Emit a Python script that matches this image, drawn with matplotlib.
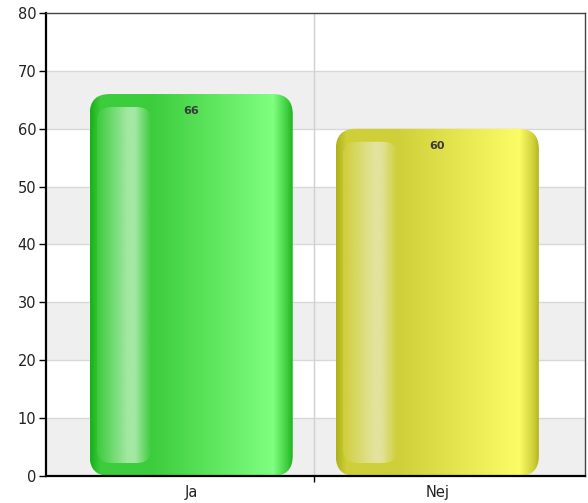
import matplotlib
matplotlib.use('Agg')
import matplotlib.pyplot as plt
import numpy as np
from matplotlib.patches import FancyBboxPatch
from matplotlib.colors import to_rgb

# Data
categories = ['Ja', 'Nej']
values = [66, 60]
# gradient stops per bar: edge dark, base, light, highlight
bar_dark = ['#19b019', '#b0b018']
bar_base = ['#3ccc3c', '#cfcf3a']
bar_light = ['#80ff80', '#fcfc66']
hl_color = ['#b0ecb0', '#e6e6a8']

y_ticks = [0, 10, 20, 30, 40, 50, 60, 70, 80]

W, H = 588, 503
fig = plt.figure(figsize=(W / 100, H / 100), dpi=100)
ax = fig.add_axes([46 / W, 27 / H, 539 / W, 463 / H])
ax.set_xlim(-0.59, 1.6)
ax.set_ylim(0, 80)

# alternating bands
for k in range(0, 80, 10):
    if (k // 10) % 2 == 0:
        ax.axhspan(k, k + 10, color='#efefef', lw=0, zorder=0)
for k in y_ticks[1:-1]:
    ax.axhline(k, color='#d8d8d8', lw=1, zorder=0.5)
ax.axvline(0.497, color='#d0d0d0', lw=1, zorder=0.5)

bar_w = 0.825
xpx = 1 / 246.0
ypx = 80 / 463.0
aspect = ypx / xpx

bars = ax.bar(range(len(categories)), values, width=bar_w, color='none', edgecolor='none', zorder=1)

def grad_img(stops, n=300):
    pos = [s[0] for s in stops]
    cols = np.array([to_rgb(s[1]) for s in stops])
    t = np.linspace(0, 1, n)
    img = np.stack([np.interp(t, pos, cols[:, c]) for c in range(3)], axis=-1)
    return img[np.newaxis, :, :]

for i, b in enumerate(bars):
    x0, w, h = b.get_x(), b.get_width(), b.get_height()
    clip = FancyBboxPatch((x0, 0), w, h,
                          boxstyle='round,pad=0,rounding_size=%f' % (20 * xpx),
                          mutation_aspect=aspect, facecolor='none', edgecolor='none',
                          transform=ax.transData)
    ax.add_patch(clip)
    stops = [(0.0, bar_dark[i]), (0.05, bar_base[i]), (0.3, bar_base[i]),
             (0.9, bar_light[i]), (0.97, bar_base[i]), (1.0, bar_dark[i])]
    im = ax.imshow(grad_img(stops), extent=(x0, x0 + w, 0, h), aspect='auto',
                   zorder=2, interpolation='bilinear')
    im.set_clip_path(clip)
    # highlight stripe on the left
    hx0 = x0 + 7 * xpx
    hw = 55 * xpx
    hl = FancyBboxPatch((hx0, 13 * ypx), hw, h - 26 * ypx,
                        boxstyle='round,pad=0,rounding_size=%f' % (15 * xpx),
                        mutation_aspect=aspect, facecolor='none', edgecolor='none',
                        transform=ax.transData)
    ax.add_patch(hl)
    hstops = [(0.0, bar_base[i]), (0.55, hl_color[i]), (0.68, hl_color[i]),
              (0.97, bar_base[i]), (1.0, bar_base[i])]
    im2 = ax.imshow(grad_img(hstops), extent=(hx0, hx0 + hw, 13 * ypx, h - 13 * ypx),
                    aspect='auto', zorder=3, interpolation='bilinear', alpha=0.9)
    im2.set_clip_path(hl)
    ax.text(b.get_x() + w / 2, h - 17 * ypx, str(values[i]), ha='center', va='center',
            fontsize=8, fontweight='bold', color='#3a3a3a', zorder=4)

ax.set_xlim(-0.59, 1.6)
ax.set_ylim(0, 80)
ax.set_yticks(y_ticks)
ax.set_yticklabels([str(v) for v in y_ticks], fontsize=10.5, color='#222222')
ax.set_xticks([0.497])
ax.set_xticklabels([''])
for i, c in enumerate(categories):
    ax.text(i, -1.5, c, ha='center', va='top', fontsize=10.5, color='#222222')
ax.tick_params(axis='y', length=5, width=1, direction='out', pad=2)
ax.tick_params(axis='x', length=4, width=1, direction='out')
ax.spines['left'].set_linewidth(1.6)
ax.spines['bottom'].set_linewidth(1.6)
ax.spines['top'].set_color('#444444')
ax.spines['right'].set_color('#444444')
ax.spines['top'].set_linewidth(1)
ax.spines['right'].set_linewidth(1)

fig.savefig('out.png', dpi=100)
